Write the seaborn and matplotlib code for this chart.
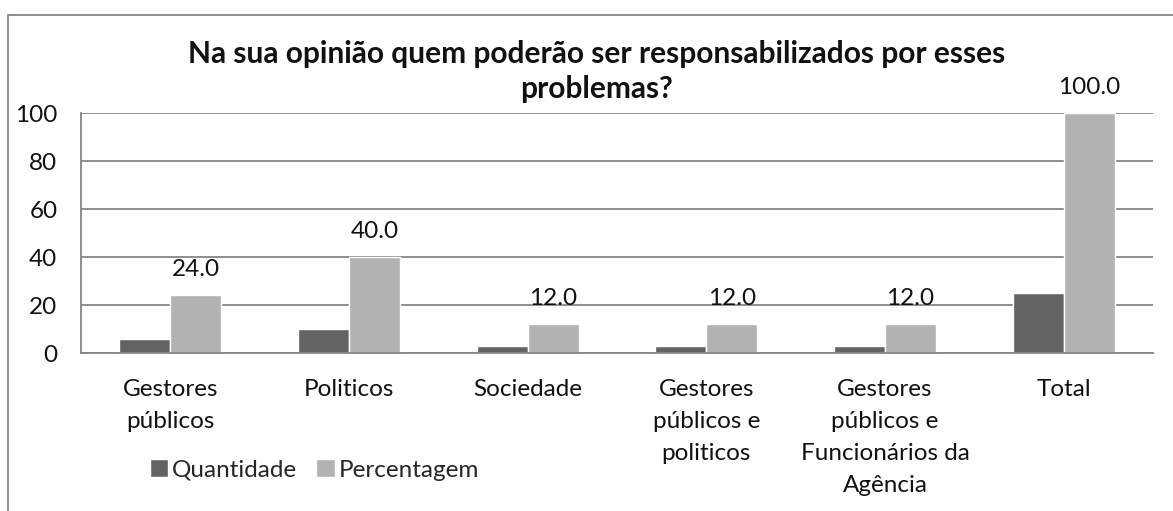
import pandas as pd
import numpy as np
import matplotlib.pyplot as plt
import seaborn as sns
from matplotlib.lines import Line2D
from matplotlib.patches import Patch

# data
categorias = [
    "Gestores\npúblicos",
    "Politicos",
    "Sociedade",
    "Gestores\npúblicos e\npoliticos",
    "Gestores\npúblicos e\nFuncionários da\nAgência",
    "Total",
]
quantidade = [6, 10, 3, 3, 3, 25]
percentagem = [24.0, 40.0, 12.0, 12.0, 12.0, 100.0]
series = ["Quantidade", "Percentagem"]

DARK = "#636363"
LIGHT = "#b2b2b2"
GRID = "#868686"
FS = 17.5

df = pd.DataFrame({
    "categoria": categorias * 2,
    "valor": quantidade + percentagem,
    "serie": [series[0]] * len(categorias) + [series[1]] * len(categorias),
})

sns.set_style("white")
plt.rcParams['font.family'] = ['Lato', 'DejaVu Sans']

W, H = 1173, 511
fig = plt.figure(figsize=(W / 100, H / 100), dpi=100)
ax = fig.add_axes([81 / W, 1 - 353 / H, (1153 - 81) / W, (353 - 113) / H])

sns.barplot(
    data=df, x="categoria", y="valor", hue="serie",
    palette=[DARK, LIGHT], saturation=1, width=0.57,
    errorbar=None, legend=False, ax=ax,
)

# labels only on the percentage bars
ax.bar_label(ax.containers[1], fmt="%.1f", padding=11, fontsize=FS, color="#111111")

ax.set_ylim(0, 100)
ax.set_yticks(np.arange(0, 101, 20))
ax.set_xlim(-0.5, len(categorias) - 0.5)
ax.yaxis.grid(True, color=GRID, lw=1.3)
ax.set_axisbelow(True)
ax.set_xlabel("")
ax.set_ylabel("")
ax.tick_params(axis="both", length=0, labelsize=FS, labelcolor="#111111")
ax.tick_params(axis="y", pad=17)
ax.tick_params(axis="x", pad=19)
for t in ax.get_xticklabels():
    t.set_linespacing(1.64)

for side in ["top", "right"]:
    ax.spines[side].set_visible(False)
for side in ["left", "bottom"]:
    ax.spines[side].set_color(GRID)
    ax.spines[side].set_linewidth(1.3)

fig.text(597 / W, 1 - 71.5 / H, "Na sua opinião quem poderão ser responsabilizados por esses\nproblemas?",
         ha="center", va="center", fontsize=21.5, fontweight="bold", linespacing=1.31, color="#111111")

handles = [Patch(facecolor=DARK), Patch(facecolor=LIGHT)]
fig.legend(handles, series, loc="center left", bbox_to_anchor=(150 / W, 1 - 470 / H),
           ncol=2, frameon=False, fontsize=FS, handlelength=0.75, handleheight=0.75,
           handletextpad=0.15, columnspacing=0.8, borderaxespad=0, borderpad=0)

# outer chart frame (only left and top edges are visible)
fig.add_artist(Line2D([8 / W, 8 / W, 1], [0, 1 - 15 / H, 1 - 15 / H],
                      transform=fig.transFigure, color=GRID, lw=1.3))

plt.savefig("out.png", dpi=100)
